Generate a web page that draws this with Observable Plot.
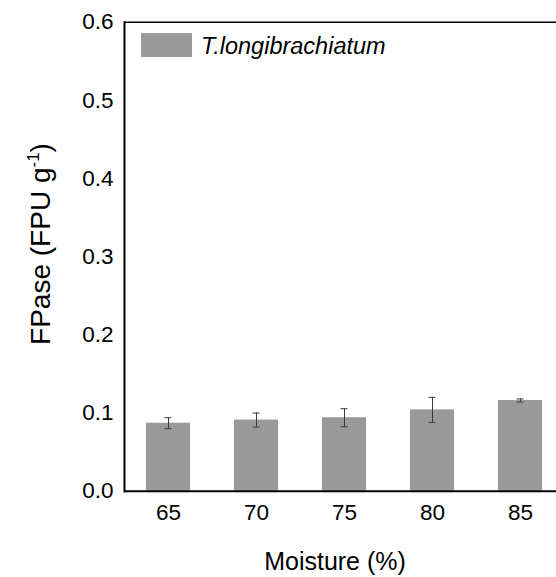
<!DOCTYPE html>
<html>
<head>
<meta charset="utf-8">
<script src="https://cdn.jsdelivr.net/npm/d3@7"></script>
<script src="https://cdn.jsdelivr.net/npm/@observablehq/plot@0.6"></script>
<style>
  html, body { margin: 0; padding: 0; background: #fff; overflow: hidden; }
  #chart svg { display: block; }
</style>
</head>
<body>
<div id="chart"></div>
<script>
const moisture = ["65", "70", "75", "80", "85"];
const fpase = [0.087, 0.091, 0.094, 0.104, 0.116];
const fpaseErr = [0.007, 0.009, 0.0115, 0.016, 0.002];
const yTicks = [0, 0.1, 0.2, 0.3, 0.4, 0.5, 0.6];
const seriesName = "T.longibrachiatum";
const xTitle = "Moisture (%)";

const rows = moisture.map((m, i) => ({m, v: fpase[i], lo: fpase[i] - fpaseErr[i], hi: fpase[i] + fpaseErr[i]}));

const W = 556, H = 577;
const font = "Arial, 'Liberation Sans', sans-serif";

const chart = Plot.plot({
  width: W,
  height: H,
  marginLeft: 124,
  marginRight: 0,
  marginTop: 21.7,
  marginBottom: 86.3,
  style: {fontFamily: font, fontSize: "22px", color: "#000", background: "#fff"},
  x: {type: "band", domain: moisture, range: [124, 564], paddingInner: 0.5, paddingOuter: 0.25, label: null},
  y: {domain: [0, 0.6], ticks: yTicks, tickFormat: d3.format(".1f"), label: null},
  marks: [
    Plot.barY(rows, {x: "m", y: "v", fill: "#9a9a9a"}),
    Plot.ruleX(rows, {x: "m", y1: "lo", y2: "hi", stroke: "#3a3a3a", strokeWidth: 1}),
    Plot.tickY(rows, {x: "m", y: "lo", stroke: "#3a3a3a", strokeWidth: 1, insetLeft: 18.5, insetRight: 18.5}),
    Plot.tickY(rows, {x: "m", y: "hi", stroke: "#3a3a3a", strokeWidth: 1, insetLeft: 18.5, insetRight: 18.5}),
    Plot.axisY({ticks: yTicks, tickSize: 0, tickPadding: 11, tickFormat: d3.format(".1f"), label: null, fontSize: 22.5}),
    Plot.axisX({tickSize: 0, tickPadding: 13, label: null, fontSize: 22.5}),
    Plot.ruleY([0], {stroke: "#000", strokeWidth: 2}),
    Plot.ruleY([0.6], {stroke: "#000", strokeWidth: 1.5}),
    Plot.frame({anchor: "left", stroke: "#000", strokeWidth: 2})
  ]
});

document.getElementById("chart").appendChild(chart);

const svg = d3.select(chart);

// Legend
const lg = svg.append("g");
lg.append("rect").attr("x", 141).attr("y", 33).attr("width", 51).attr("height", 24).attr("fill", "#9a9a9a");
lg.append("text").attr("x", 201).attr("y", 53.5).attr("text-anchor", "start")
  .attr("font-family", font).attr("font-size", 23.5)
  .attr("font-style", "italic").attr("fill", "#000").text(seriesName);

// Y title with superscript
const yt = svg.append("text")
  .attr("transform", "translate(50,244) rotate(-90)")
  .attr("text-anchor", "middle")
  .attr("font-family", font).attr("font-size", 28).attr("fill", "#000");
yt.append("tspan").text("FPase (FPU g");
yt.append("tspan").attr("font-size", 17).attr("dy", -11).text("-1");
yt.append("tspan").attr("dy", 11).text(")");

// X title
svg.append("text").attr("x", 335).attr("y", 570).attr("text-anchor", "middle")
  .attr("font-family", font).attr("font-size", 25).attr("fill", "#000").text(xTitle);
</script>
</body>
</html>
